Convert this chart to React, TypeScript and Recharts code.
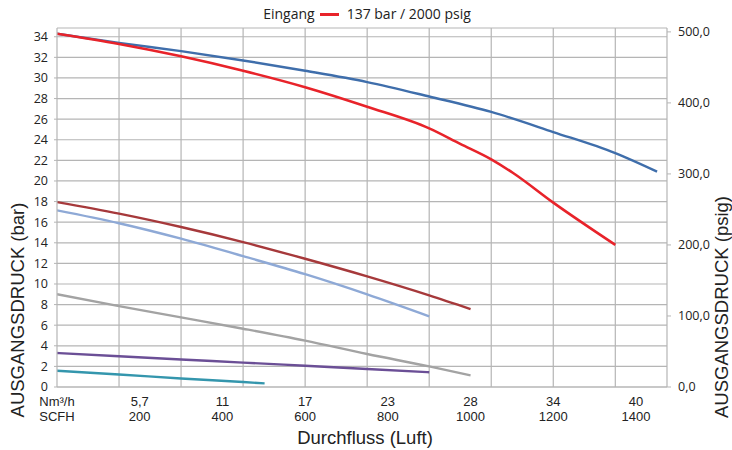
import React from "react";
import {
  LineChart,
  Line,
  XAxis,
  YAxis,
  CartesianGrid,
  ReferenceLine,
  Legend,
} from "recharts";

// Flow in SCFH (x) and outlet pressure in bar (y)
const blueFlow = [0, 150, 300, 450, 600, 750, 900, 1050, 1200, 1350, 1451];
const blueBar = [34.3, 33.4, 32.6, 31.7, 30.7, 29.6, 28.2, 26.7, 24.75, 22.7, 20.9];

const redFlow = [0, 150, 300, 450, 600, 750, 900, 975, 1050, 1102, 1200, 1350];
const redBar = [34.3, 33.3, 32.1, 30.7, 29.1, 27.2, 25.1, 23.6, 22.1, 20.8, 17.9, 13.8];

const brownFlow = [0, 150, 300, 450, 600, 750, 900, 1000];
const brownBar = [17.95, 16.83, 15.53, 14.07, 12.45, 10.74, 8.9, 7.57];

const lightBlueFlow = [0, 150, 300, 450, 600, 750, 900];
const lightBlueBar = [17.15, 15.9, 14.4, 12.7, 10.95, 8.99, 6.86];

const grayFlow = [0, 150, 300, 450, 600, 750, 900, 1000];
const grayBar = [9.0, 7.85, 6.76, 5.66, 4.5, 3.2, 2.0, 1.13];

const purpleFlow = [0, 150, 300, 450, 600, 750, 900];
const purpleBar = [3.3, 2.98, 2.67, 2.37, 2.06, 1.75, 1.43];

const tealFlow = [0, 150, 300, 450, 502];
const tealBar = [1.58, 1.22, 0.83, 0.48, 0.35];

// Axis ticks
const scfhTicks = [0, 200, 400, 600, 800, 1000, 1200, 1400];
const nm3Labels = ["Nm³/h", "5,7", "11", "17", "23", "28", "34", "40"];
const scfhLabels = ["SCFH", "200", "400", "600", "800", "1000", "1200", "1400"];
const gridFlow = [150, 300, 450, 600, 750, 900, 1050, 1200, 1350];
const barTicks = [0, 2, 4, 6, 8, 10, 12, 14, 16, 18, 20, 22, 24, 26, 28, 30, 32, 34];
const psigTicks = [0, 100, 200, 300, 400, 500];

const BAR_MAX = 34.85;
const PSIG_PER_BAR = 14.5038;
const FLOW_MAX = 1475;

const build = (xs: number[], ys: number[]) => xs.map((x, i) => ({ flow: x, bar: ys[i] }));

const series = [
  { name: "blue", data: build(blueFlow, blueBar), color: "#3f6eab", width: 2.4 },
  { name: "brown", data: build(brownFlow, brownBar), color: "#a6393b", width: 2.4 },
  { name: "lightblue", data: build(lightBlueFlow, lightBlueBar), color: "#8ea9d6", width: 2.4 },
  { name: "gray", data: build(grayFlow, grayBar), color: "#a3a3a3", width: 2.4 },
  { name: "purple", data: build(purpleFlow, purpleBar), color: "#6b4f96", width: 2.4 },
  { name: "teal", data: build(tealFlow, tealBar), color: "#3496ad", width: 2.4 },
  { name: "137 bar / 2000 psig", data: build(redFlow, redBar), color: "#e8232a", width: 2.6 },
];

const GRID = "#b5b5b5";
const TXT = "#222";
const SANS = "'Open Sans', 'Noto Sans', sans-serif";
const NARROW = "'Liberation Sans Narrow', 'Arial Narrow', 'Liberation Sans', sans-serif";
const LABEL_FONT = "'Liberation Sans', Arial, sans-serif";

const FlowTick = (props: any) => {
  const { x, y, payload } = props;
  const idx = scfhTicks.indexOf(payload.value);
  if (idx < 0) return null;
  return (
    <g>
      <text x={x} y={y + 14} textAnchor="middle" dominantBaseline="central" fontSize={13} fontFamily={NARROW} fill={TXT}>
        {nm3Labels[idx]}
      </text>
      <text x={x} y={y + 29} textAnchor="middle" dominantBaseline="central" fontSize={13} fontFamily={NARROW} fill={TXT}>
        {scfhLabels[idx]}
      </text>
    </g>
  );
};

const renderLegend = (props: any) => {
  const item = (props.payload || []).find((p: any) => p.value === "137 bar / 2000 psig");
  return (
    <div
      style={{
        height: 28,
        boxSizing: "border-box",
        paddingTop: 4,
        paddingLeft: 2,
        display: "flex",
        justifyContent: "center",
        alignItems: "flex-start",
        fontFamily: SANS,
        fontSize: 14,
        color: TXT,
        lineHeight: "19px",
      }}
    >
      <span>Eingang</span>
      <span
        style={{
          display: "inline-block",
          width: 19,
          height: 2.6,
          marginTop: 9,
          background: item ? item.color : "#e8232a",
          marginLeft: 5,
          marginRight: 8,
        }}
      />
      <span>{item ? item.value : ""}</span>
    </div>
  );
};

export default function App() {
  return (
    <>
      <style>{`body{margin:0}`}</style>
      <LineChart width={732} height={450} margin={{ top: 0, right: 0, bottom: 0, left: 0 }}>
        <CartesianGrid yAxisId="bar" vertical={false} stroke={GRID} strokeWidth={1.2} />
        <XAxis
          dataKey="flow"
          type="number"
          domain={[0, FLOW_MAX]}
          ticks={scfhTicks}
          interval={0}
          allowDataOverflow
          height={63}
          tickLine={false}
          tickSize={0}
          tickMargin={0}
          axisLine={{ stroke: GRID, strokeWidth: 1.2 }}
          tick={<FlowTick />}
          label={(p: any) => {
            const vb = p.viewBox || {};
            return (
              <text x={(vb.x ?? 57) + 308} y={(vb.y ?? 387) + 50} textAnchor="middle" dominantBaseline="central" fontSize={18.5} fontFamily={LABEL_FONT} fill={TXT}>
                Durchfluss (Luft)
              </text>
            );
          }}
        />
        <YAxis
          yAxisId="bar"
          orientation="left"
          type="number"
          domain={[0, BAR_MAX]}
          ticks={barTicks}
          interval={0}
          allowDataOverflow
          width={57}
          tickSize={3}
          tickMargin={6}
          tickLine={{ stroke: GRID }}
          axisLine={{ stroke: GRID, strokeWidth: 1.2 }}
          tick={{ fontSize: 12.5, fontFamily: SANS, fill: TXT }}
          label={(p: any) => {
            const vb = p.viewBox || {};
            const cx = (vb.x ?? 0) + 17;
            const cy = (vb.y ?? 28) + (vb.height ?? 359) - 77;
            return (
              <text x={cx} y={cy} transform={`rotate(-90 ${cx} ${cy})`} textAnchor="middle" dominantBaseline="central" fontSize={18.5} fontFamily={LABEL_FONT} fill={TXT}>
                AUSGANGSDRUCK (bar)
              </text>
            );
          }}
        />
        <YAxis
          yAxisId="psig"
          orientation="right"
          type="number"
          domain={[0, BAR_MAX * PSIG_PER_BAR]}
          ticks={psigTicks}
          interval={0}
          allowDataOverflow
          width={65}
          tickSize={4}
          tickMargin={7}
          tickLine={{ stroke: GRID }}
          axisLine={{ stroke: GRID, strokeWidth: 1.2 }}
          tickFormatter={(v: number) => v.toFixed(1).replace(".", ",")}
          tick={{ fontSize: 12.5, fontFamily: SANS, fill: TXT, textAnchor: "start" }}
          label={(p: any) => {
            const vb = p.viewBox || {};
            const cx = (vb.x ?? 667) + 54;
            const cy = (vb.y ?? 28) + (vb.height ?? 359) - 80;
            return (
              <text x={cx} y={cy} transform={`rotate(-90 ${cx} ${cy})`} textAnchor="middle" dominantBaseline="central" fontSize={18.5} fontFamily={LABEL_FONT} fill={TXT}>
                AUSGANGSDRUCK (psig)
              </text>
            );
          }}
        />
        {gridFlow.map((g) => (
          <ReferenceLine key={g} x={g} yAxisId="bar" stroke={GRID} strokeWidth={1.2} />
        ))}
        <Legend verticalAlign="top" align="center" content={renderLegend} />
        {series.map((s) => (
          <Line
            key={s.name}
            yAxisId="bar"
            data={s.data}
            dataKey="bar"
            name={s.name}
            type="monotone"
            stroke={s.color}
            strokeWidth={s.width}
            dot={false}
            activeDot={false}
            isAnimationActive={false}
            legendType="line"
          />
        ))}
      </LineChart>
    </>
  );
}
